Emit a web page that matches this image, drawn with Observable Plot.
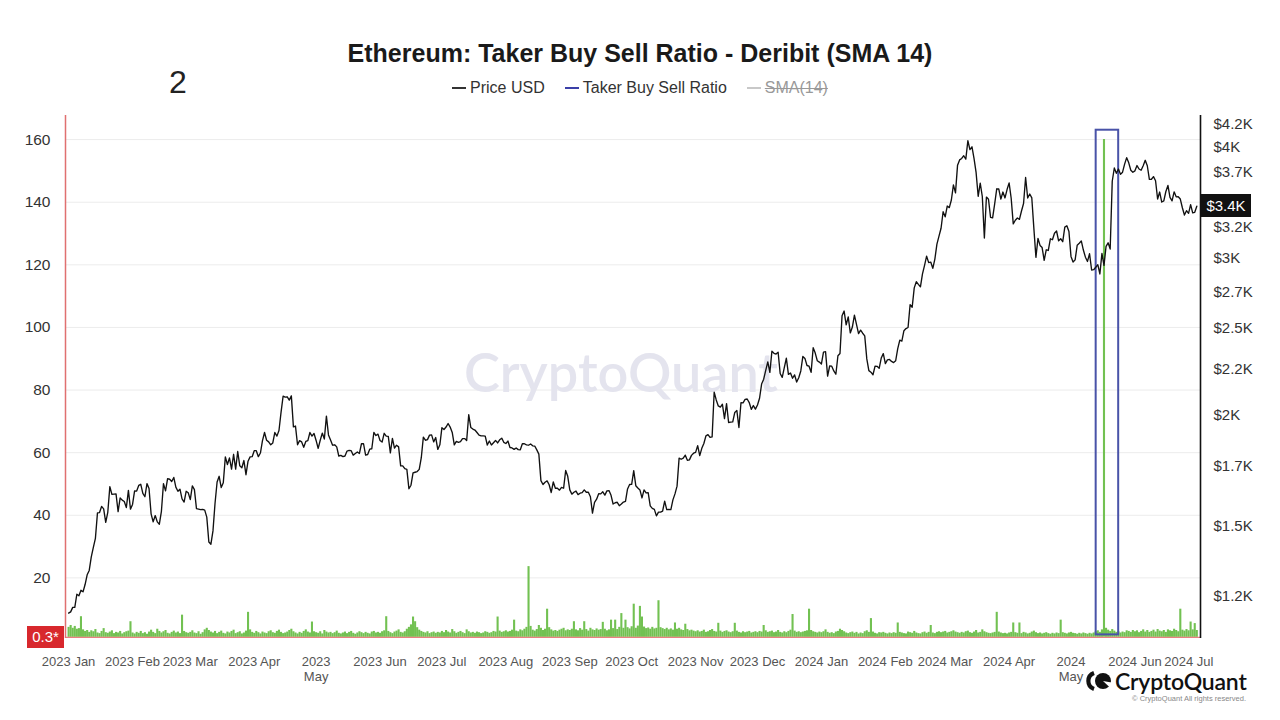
<!DOCTYPE html>
<html>
<head>
<meta charset="utf-8">
<script src="https://cdn.jsdelivr.net/npm/d3@7"></script>
<script src="https://cdn.jsdelivr.net/npm/@observablehq/plot@0.6"></script>
<style>
  html, body { margin: 0; padding: 0; background: #fff; }
  #wrap { position: relative; width: 1280px; height: 720px; overflow: hidden; background: #fff;
          font-family: "Liberation Sans", Arial, sans-serif; color: #333; }
  #num { position: absolute; left: 169px; top: 62px; font-size: 32px; line-height: 40px; color: #222; }
  #title { position: absolute; left: 0; width: 1280px; top: 38px; text-align: center;
           font-size: 25px; line-height: 30px; font-weight: bold; color: #1a1a1a; }
  #legend { position: absolute; left: 0; width: 1280px; top: 78px; display: flex; justify-content: center;
            gap: 20px; font-size: 16px; line-height: 20px; color: #333; }
  #legend .item { display: flex; align-items: center; gap: 4px; }
  #legend .dash { display: inline-block; width: 14px; height: 1.5px; }
  #legend .off { color: #999; text-decoration: line-through; }
  #chart { position: absolute; left: 0; top: 105px; width: 1280px; height: 615px; }
  #chart svg { position: absolute; left: 0; top: 0; }
  #lastPrice { position: absolute; left: 1201px; width: 50px; height: 23px; background: #111; color: #fff;
               font-size: 15px; line-height: 23px; text-align: center; }
  #minLabel { position: absolute; left: 27px; top: 626px; width: 37px; height: 22px; background: #d8282d;
              color: #fff; font-size: 15px; line-height: 22px; text-align: center; }
  #logo { position: absolute; left: 1086px; top: 667px; display: flex; align-items: center; gap: 3px; }
  #logo span { font-family: Lato, "Open Sans", sans-serif; font-size: 23px; font-weight: 600; color: #111; letter-spacing: -0.2px; }
  #copy { position: absolute; right: 34px; top: 694px; font-size: 7.5px; color: #888; }
</style>
</head>
<body>
<div id="wrap">
  <div id="num">2</div>
  <div id="title">Ethereum: Taker Buy Sell Ratio - Deribit (SMA 14)</div>
  <div id="legend">
    <span class="item"><span class="dash" style="background:#333"></span>Price USD</span>
    <span class="item"><span class="dash" style="background:#3b40a8;height:2px"></span>Taker Buy Sell Ratio</span>
    <span class="item"><span class="dash" style="background:#c8c8c8"></span><span class="off">SMA(14)</span></span>
  </div>
  <div id="chart"></div>
  <div id="lastPrice"></div>
  <div id="minLabel">0.3*</div>
  <div id="logo">
    <svg width="26" height="22" viewBox="0 0 26 22">
      <path d="M8 3 A8.5 8.5 0 0 0 8 19" stroke="#111" stroke-width="4.2" fill="none"/>
      <circle cx="17" cy="11" r="8" fill="#111"/>
      <path d="M17 11 L25.5 12.5 L25.5 19 Z" fill="#fff"/>
    </svg>
    <span>CryptoQuant</span>
  </div>
  <div id="copy">© CryptoQuant All rights reserved.</div>
</div>
<script>
// ---------------- data ----------------
const seriesStart = "2023-01-01";   // one value per day from here

// Taker Buy Sell Ratio (SMA 14), daily, 2023-01-01 .. 2024-07-01
const ratioValues = [
  // 2023 Jan
  4.2,4.8,3.9,4.5,3.6,3.8,7.6,3.4,2.9,3.2,2.6,3.1,2.8,3.5,2.4,2.2,2.9,3.8,2.5,2.3,2.7,3.1,2.2,2.6,2.4,2.9,2.1,2.5,2.8,3.0,6.0,
  // Feb
  2.4,2.1,2.6,2.3,2.9,2.2,2.5,2.0,2.7,3.3,2.6,2.2,3.6,2.9,2.4,2.8,3.2,2.3,2.1,2.6,3.0,2.4,2.7,2.2,8.1,2.9,2.5,2.3,
  // Mar
  2.6,3.1,2.4,2.2,2.8,2.0,2.5,3.4,3.9,3.2,2.7,2.4,2.9,2.2,2.6,3.0,2.3,2.1,2.7,2.4,2.9,3.3,2.2,2.5,2.8,2.1,2.4,3.0,9.0,3.4,2.6,
  // Apr
  2.3,2.9,2.5,2.1,2.7,2.4,2.2,2.8,3.1,2.5,2.3,2.9,3.3,2.6,2.2,2.4,2.7,3.2,3.6,2.8,2.4,2.1,2.6,2.3,2.9,3.4,2.7,2.4,5.9,2.8,
  // May
  2.5,2.3,2.8,2.1,3.2,2.7,2.4,2.6,2.2,2.5,3.0,2.3,2.1,2.4,2.7,2.2,2.6,2.9,2.3,2.0,2.4,2.8,2.5,2.2,2.6,2.3,2.1,2.7,2.9,2.4,2.6,
  // Jun
  2.3,2.8,3.1,7.6,2.9,2.5,2.2,2.7,3.0,3.4,2.6,2.4,2.8,3.6,4.2,5.0,7.5,6.0,4.1,3.3,2.9,2.6,2.4,2.8,2.2,2.5,2.7,2.3,2.6,2.4,
  // Jul
  2.9,2.5,3.2,2.7,2.4,3.5,2.8,2.3,2.6,2.9,2.5,2.2,3.4,2.8,2.4,2.6,2.3,2.7,2.5,2.2,2.4,2.8,2.6,2.3,2.5,2.9,2.7,7.5,3.0,2.6,2.8,
  // Aug
  3.1,2.7,2.9,3.3,6.5,3.0,2.8,3.4,3.1,3.6,4.2,23.6,4.5,3.3,3.0,3.5,4.8,3.9,3.2,3.6,10.0,4.1,3.4,3.0,3.2,2.9,3.3,3.6,3.9,3.1,3.4,
  // Sep
  3.2,3.6,6.0,3.4,3.1,3.8,3.3,6.0,3.5,3.0,3.9,3.4,3.2,3.7,3.3,3.5,5.8,3.6,3.1,3.4,6.5,3.8,6.5,3.5,4.2,8.6,3.9,6.5,4.1,3.7,
  // Oct
  4.4,11.6,3.9,4.6,10.9,7.5,4.3,3.8,4.0,3.6,4.2,3.7,3.9,12.7,4.1,3.8,3.5,3.9,3.4,3.7,3.3,5.6,3.6,3.9,3.4,3.2,5.2,3.5,3.1,3.3,3.0,
  // Nov
  2.8,3.1,2.7,2.9,3.3,2.6,2.8,3.2,3.5,2.9,2.7,5.5,3.0,2.6,2.9,3.1,2.7,2.5,2.8,5.5,3.0,2.6,2.4,2.8,2.5,2.7,2.9,2.4,2.6,2.8,
  // Dec
  2.5,2.9,2.7,4.8,3.1,2.6,2.8,3.0,2.5,2.7,3.2,2.6,2.4,2.8,2.5,2.9,3.3,8.3,3.0,2.6,2.8,2.5,2.7,2.9,3.1,10.0,3.2,2.8,2.6,2.4,2.7,
  // 2024 Jan
  2.5,2.8,3.4,2.6,2.3,2.5,2.2,2.7,2.9,3.6,3.2,2.8,2.4,2.2,2.5,2.7,2.3,2.6,2.1,2.4,2.2,2.8,3.1,2.6,7.0,2.7,2.3,2.1,2.5,2.4,2.6,
  // Feb
  2.3,2.1,2.4,2.2,2.5,2.3,5.6,2.6,2.4,2.2,2.1,2.7,2.5,2.3,2.9,2.4,2.2,2.1,2.5,2.7,2.3,2.6,4.8,2.4,2.2,2.6,2.8,2.5,2.7,
  // Mar
  2.9,2.4,2.6,2.8,3.1,2.7,2.5,2.3,2.6,2.4,2.8,3.0,2.5,2.3,2.7,3.2,2.4,2.6,3.4,2.8,2.5,2.3,2.2,2.4,2.6,9.0,2.7,2.4,2.2,2.3,2.1,
  // Apr
  2.4,2.6,5.6,2.5,2.3,5.6,2.2,2.6,2.4,2.1,2.3,2.7,3.0,2.5,2.2,2.4,2.1,2.3,2.5,2.2,2.0,2.3,2.1,2.4,2.2,6.5,2.5,2.3,2.1,2.4,
  // May
  2.6,2.3,2.2,2.0,2.3,2.1,2.4,2.2,2.0,2.3,2.1,2.4,2.8,3.1,2.6,3.4,160,3.9,3.3,2.9,3.5,3.0,2.6,2.8,2.4,2.7,2.5,3.1,2.9,2.6,3.2,
  // Jun
  2.8,3.1,2.5,2.9,3.4,2.7,3.2,2.6,2.9,3.3,2.7,3.5,3.0,2.8,3.2,2.6,3.4,3.1,2.9,3.6,3.2,2.8,10.0,3.3,3.0,3.5,3.1,5.9,3.4,5.4,
  // Jul
  3.2
];

// ETH price USD, daily (value at each day's start), 2023-01-01 .. 2024-07-01
const priceValues = [
  // 2023 Jan
  1196,1200,1214,1214,1256,1251,1269,1264,1288,1321,1336,1384,1418,1452,1551,1552,1577,1567,1513,1553,1660,1627,1628,1629,1556,1612,1603,1597,1572,1644,1566,
  // Feb
  1585,1642,1641,1665,1670,1631,1617,1673,1652,1547,1515,1540,1515,1506,1557,1673,1642,1695,1692,1682,1700,1658,1640,1649,1608,1595,1640,1634,
  // Mar
  1605,1663,1647,1568,1566,1564,1565,1562,1534,1438,1430,1480,1590,1680,1705,1656,1677,1793,1758,1788,1737,1805,1737,1818,1752,1743,1776,1712,1773,1793,1794,
  // Apr
  1822,1822,1794,1811,1870,1910,1872,1864,1850,1859,1910,1892,1920,2012,2098,2093,2095,2077,2100,1938,1942,1850,1870,1864,1838,1866,1870,1910,1892,1905,
  // May
  1871,1833,1872,1907,1878,1993,1898,1873,1848,1850,1840,1797,1800,1794,1797,1820,1823,1822,1801,1809,1816,1809,1855,1855,1801,1804,1829,1831,1910,1895,1902,
  // Jun
  1871,1863,1906,1892,1891,1812,1881,1834,1848,1840,1752,1752,1739,1736,1651,1666,1720,1723,1726,1736,1789,1887,1872,1875,1897,1898,1864,1885,1828,1850,
  // Jul
  1934,1925,1937,1955,1937,1910,1850,1866,1862,1865,1880,1880,1871,2000,1935,1927,1922,1910,1897,1893,1893,1892,1849,1868,1849,1860,1871,1859,1874,1882,1862,
  // Aug
  1856,1868,1837,1835,1828,1835,1827,1826,1855,1855,1850,1848,1854,1845,1844,1826,1806,1686,1669,1679,1685,1668,1635,1680,1653,1653,1645,1657,1653,1731,1705,
  // Sep
  1646,1628,1636,1641,1626,1632,1634,1646,1636,1636,1617,1550,1594,1607,1630,1629,1638,1624,1642,1643,1623,1587,1592,1594,1580,1587,1595,1598,1650,1669,
  // Oct
  1670,1730,1664,1654,1646,1612,1646,1633,1634,1579,1569,1565,1539,1554,1554,1558,1599,1564,1565,1564,1604,1629,1662,1787,1782,1787,1801,1777,1779,1800,1810,
  // Nov
  1814,1846,1799,1833,1856,1893,1899,1886,1888,2120,2078,2046,2040,2055,1980,2058,1960,1962,1963,2012,2022,1935,2063,2062,2081,2083,2064,2028,2048,2029,
  // Dec
  2051,2087,2165,2193,2243,2293,2232,2358,2345,2340,2352,2225,2203,2260,2315,2220,2228,2198,2217,2177,2201,2240,2326,2314,2272,2268,2232,2379,2346,2300,2292,
  // 2024 Jan
  2281,2352,2355,2210,2269,2268,2240,2221,2330,2344,2585,2616,2524,2577,2472,2510,2588,2528,2468,2490,2470,2453,2311,2242,2233,2218,2268,2267,2255,2316,2343,
  // Feb
  2283,2305,2308,2296,2289,2300,2373,2426,2420,2486,2500,2507,2660,2642,2778,2823,2803,2786,2880,2945,3016,2966,2970,2922,2993,3112,3176,3242,3384,
  // Mar
  3340,3434,3420,3488,3628,3553,3818,3870,3885,3912,3878,4067,3975,4004,3883,3744,3522,3644,3520,3161,3515,3495,3335,3330,3454,3591,3589,3497,3561,3507,3584,
  // Apr
  3647,3504,3279,3310,3329,3318,3390,3457,3698,3506,3543,3507,3241,3007,3158,3101,3084,2984,3066,3061,3155,3147,3201,3219,3138,3155,3131,3252,3263,3215,
  // May
  3014,2970,2987,3102,3118,3137,3064,3008,2975,3035,2910,2912,2930,2950,2880,3037,2945,3093,3122,3072,3662,3790,3738,3780,3728,3749,3828,3893,3841,3768,3748,
  // Jun
  3762,3814,3780,3768,3812,3866,3812,3680,3681,3706,3667,3497,3561,3470,3480,3566,3622,3512,3481,3563,3517,3518,3497,3419,3355,3393,3370,3447,3374,3379,
  // Jul
  3433
];

const leftTicks = [20, 40, 60, 80, 100, 120, 140, 160];
const ratioDomain = [0.64, 167.7];
const ratioBaseline = 1;

// right axis ticks ($3.5K sits under the current-price tag, so it is not listed)
const priceTicks = [1250, 1500, 1750, 2000, 2250, 2500, 2750, 3000, 3250, 3750, 4000, 4250];
const priceTickLabels = ["$1.2K","$1.5K","$1.7K","$2K","$2.2K","$2.5K","$2.7K","$3K","$3.2K","$3.7K","$4K","$4.2K"];
const priceDomain = [1120, 4342];

const monthTicks = ["2023-01-01","2023-02-01","2023-03-01","2023-04-01","2023-05-01","2023-06-01","2023-07-01",
  "2023-08-01","2023-09-01","2023-10-01","2023-11-01","2023-12-01","2024-01-01","2024-02-01","2024-03-01",
  "2024-04-01","2024-05-01","2024-06-01","2024-07-01"];
const monthLabels = ["2023 Jan","2023 Feb","2023 Mar","2023 Apr","2023\nMay","2023 Jun","2023 Jul","2023 Aug",
  "2023 Sep","2023 Oct","2023 Nov","2023 Dec","2024 Jan","2024 Feb","2024 Mar","2024 Apr","2024\nMay","2024 Jun","2024 Jul"];

const timeDomain = ["2022-12-30T12:00Z", "2024-07-02T19:00Z"];

// highlighted box (annotation)
const highlightDates = ["2024-05-13T05:00Z", "2024-05-24T03:00Z"];
const highlightRatio = [1.8, 163];

// ---------------- build ----------------
const DAY = 864e5;
const t0 = new Date(seriesStart + "T00:00Z").getTime();
const dayDate = i => new Date(t0 + i * DAY);
const ratioData = ratioValues.map((v, i) => ({date: dayDate(i), value: v}));
const priceData = priceValues.map((v, i) => ({date: dayDate(i), price: v}));
const xDom = timeDomain.map(d => new Date(d));
const monthDates = monthTicks.map(d => new Date(d + "T00:00Z"));
const monthLabelByTime = new Map(monthDates.map((d, i) => [+d, monthLabels[i]]));
const priceLabelByValue = new Map(priceTicks.map((v, i) => [v, priceTickLabels[i]]));
const highlight = [{x1: new Date(highlightDates[0]), x2: new Date(highlightDates[1]), y1: highlightRatio[0], y2: highlightRatio[1]}];

const W = 1280, H = 615;
const frame = {width: W, height: H, marginTop: 10, marginBottom: 82, marginLeft: 65, marginRight: 80};
const font = '"Liberation Sans", Arial, sans-serif';
const xAxisStyle = {anchor: "bottom", tickSize: 0, tickPadding: 16, fontSize: 13, fill: "#555",
  lineHeight: 1.2, label: null, tickFormat: d => monthLabelByTime.get(+d)};

const ratioPlot = Plot.plot({
  ...frame,
  style: {background: "transparent", fontFamily: font, fontSize: "15px", color: "#333", overflow: "visible"},
  x: {type: "utc", domain: xDom, label: null},
  y: {domain: ratioDomain, label: null},
  marks: [
    Plot.gridY(leftTicks, {stroke: "#ececec", strokeOpacity: 1, strokeWidth: 1}),
    Plot.text(["CryptoQuant"], {frameAnchor: "middle", dx: -12, dy: -2, fontSize: 54, fontFamily: "Lato, 'Open Sans', sans-serif",
      fontWeight: 600, fill: "#e4e4ee"}),
    Plot.ruleX(ratioData, {x: "date", y1: ratioBaseline, y2: "value", stroke: "#72c152", strokeWidth: 2.1}),
    Plot.ruleY([ratioBaseline], {stroke: "#ea8080", strokeWidth: 1.3}),
    Plot.rect(highlight, {x1: "x1", x2: "x2", y1: "y1", y2: "y2", fill: "none", stroke: "#4953a8", strokeWidth: 2}),
    Plot.ruleX([xDom[0]], {stroke: "#e07070", strokeWidth: 1.5}),
    Plot.axisY(leftTicks, {anchor: "left", tickSize: 0, tickPadding: 15, fontSize: 15.5, fill: "#333", label: null}),
    Plot.axisX(monthDates.slice(0, -1), xAxisStyle),
    Plot.axisX(monthDates.slice(-1), {...xAxisStyle, dx: -8})
  ]
});

const pricePlot = Plot.plot({
  ...frame,
  style: {background: "transparent", fontFamily: font, fontSize: "15px", color: "#333", overflow: "visible"},
  x: {type: "utc", domain: xDom, axis: null, label: null},
  y: {type: "log", domain: priceDomain, label: null},
  marks: [
    Plot.line(priceData, {x: "date", y: "price", stroke: "#111", strokeWidth: 1.35}),
    Plot.ruleX([xDom[1]], {stroke: "#111", strokeWidth: 1.6}),
    Plot.axisY(priceTicks, {anchor: "right", tickSize: 0, tickPadding: 13, fontSize: 15, fill: "#333", label: null,
      tickFormat: d => priceLabelByValue.get(d)})
  ]
});

const chart = document.getElementById("chart");
chart.appendChild(ratioPlot);
chart.appendChild(pricePlot);

// current price tag on the right axis
const lastPrice = priceValues[priceValues.length - 1];
const yPix = pricePlot.scale("y").apply(lastPrice);
const tag = document.getElementById("lastPrice");
tag.textContent = "$" + (lastPrice / 1000).toFixed(1) + "K";
tag.style.top = (105 + yPix - 11.5) + "px";
</script>
</body>
</html>
